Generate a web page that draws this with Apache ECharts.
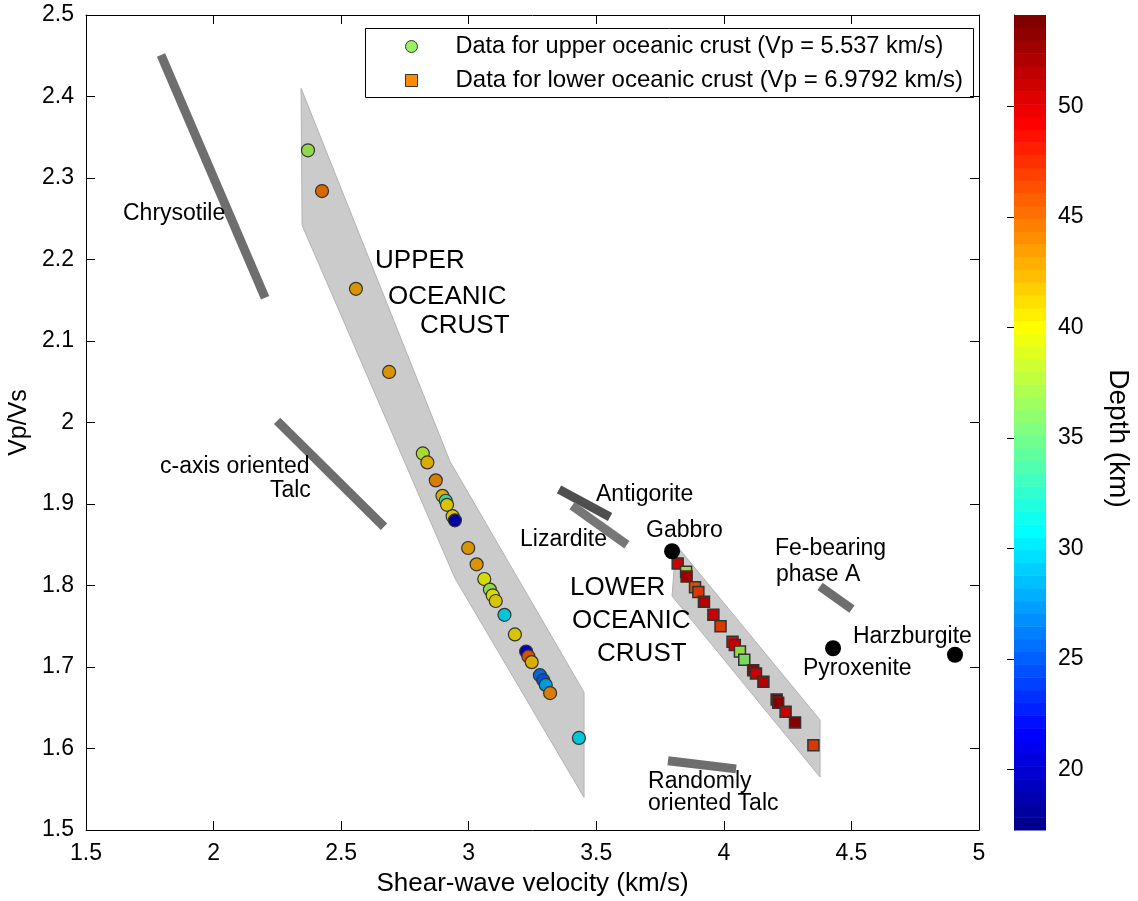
<!DOCTYPE html>
<html>
<head>
<meta charset="utf-8">
<script src="https://cdn.jsdelivr.net/npm/echarts@6/dist/echarts.min.js"></script>
<style>
  html, body { margin: 0; padding: 0; background: #fff; }
  #chart { width: 1138px; height: 901px; }
</style>
</head>
<body>
<div id="chart"></div>
<script>
// ---- Upper oceanic crust samples (Vp = 5.537 km/s) ----
const upperVs    = [2.370, 2.425, 2.558, 2.688, 2.820, 2.838, 2.871, 2.897, 2.910, 2.915, 2.937, 2.946, 2.998, 3.031,
                    3.061, 3.083, 3.094, 3.106, 3.140, 3.181, 3.225, 3.234, 3.247, 3.279, 3.292, 3.302, 3.319, 3.432];
const upperRatio = [2.334, 2.284, 2.164, 2.062, 1.962, 1.951, 1.929, 1.910, 1.904, 1.899, 1.885, 1.880, 1.846, 1.826,
                    1.808, 1.795, 1.788, 1.781, 1.764, 1.740, 1.719, 1.713, 1.706, 1.690, 1.684, 1.678, 1.668, 1.613];
const upperDepth = [37, 45, 43, 43, 38, 42, 44, 42, 33, 41, 41, 19, 43, 43,
                    40, 37, 40, 41, 30, 41, 20, 46, 42, 26, 25, 28, 44, 30];

// ---- Lower oceanic crust samples (Vp = 6.9792 km/s) ----
const lowerVs    = [3.819, 3.852, 3.854, 3.887, 3.900, 3.922, 3.959, 3.987, 4.034, 4.043, 4.063, 4.080,
                    4.115, 4.126, 4.155, 4.207, 4.213, 4.242, 4.279, 4.351];
const lowerRatio = [1.827, 1.817, 1.811, 1.798, 1.792, 1.780, 1.764, 1.750, 1.731, 1.727, 1.719, 1.709,
                    1.696, 1.692, 1.682, 1.660, 1.656, 1.645, 1.632, 1.604];
const lowerDepth = [50, 38, 52, 46, 47, 51, 50, 47, 49, 50, 37, 36,
                    52, 50, 51, 53, 53, 50, 53, 47];

// ---- Reference rocks ----
const rockNames = ['Gabbro', 'Pyroxenite', 'Harzburgite'];
const rockVs    = [3.797, 4.428, 4.906];
const rockRatio = [1.842, 1.723, 1.715];

// ---- Shaded crust fields (outline vertices) ----
const upperFieldVs    = [2.343, 2.347, 2.946, 3.452, 3.452, 2.927];
const upperFieldRatio = [2.410, 2.242, 1.809, 1.540, 1.669, 1.952];
const lowerFieldVs    = [3.812, 3.797, 4.377, 4.377];
const lowerFieldRatio = [1.850, 1.787, 1.565, 1.635];

// ---- Mineral trends (segment end points) ----
const mineralNames = ['Chrysotile', 'c-axis oriented Talc', 'Antigorite', 'Lizardite', 'Fe-bearing phase A', 'Randomly oriented Talc'];
const mineralVs    = [[1.794, 2.202], [2.249, 2.668], [3.354, 3.554], [3.405, 3.620], [4.377, 4.502], [3.781, 4.048]];
const mineralRatio = [[2.451, 2.153], [2.002, 1.872], [1.918, 1.884], [1.898, 1.850], [1.799, 1.771], [1.585, 1.575]];
const mineralShade = ['#6e6e6e', '#6e6e6e', '#4f4f4f', '#777777', '#6e6e6e', '#6e6e6e'];

// ---- Text annotations (left edge, vertical middle) ----
const noteText  = ['Chrysotile', 'UPPER', 'OCEANIC', 'CRUST', 'c-axis oriented', 'Talc', 'Antigorite', 'Lizardite',
                   'Gabbro', 'LOWER', 'OCEANIC', 'CRUST', 'Fe-bearing', 'phase A', 'Harzburgite', 'Pyroxenite',
                   'Randomly', 'oriented Talc'];
const noteVs    = [1.645, 2.633, 2.684, 2.809, 1.790, 2.221, 3.499, 3.201,
                   3.695, 3.397, 3.405, 3.503, 4.200, 4.204, 4.506, 4.310,
                   3.703, 3.703];
const noteRatio = [2.258, 2.199, 2.155, 2.120, 1.947, 1.917, 1.913, 1.858,
                   1.868, 1.798, 1.758, 1.718, 1.846, 1.814, 1.739, 1.699,
                   1.560, 1.533];
const noteBig   = [false, true, true, true, false, false, false, false,
                   false, true, true, true, false, false, false, false,
                   false, false];

// ---- Axes ----
const vsMin = 1.5, vsMax = 5, vsStep = 0.5;
const ratioMin = 1.5, ratioMax = 2.5, ratioStep = 0.1;
const depthMin = 17.27, depthMax = 54.14;
const depthTicks = [20, 25, 30, 35, 40, 45, 50];

// MATLAB-style jet colormap with 64 levels
function jetRGB(i, n) {
  const t = (i + 1) / n;
  const c = v => Math.max(0, Math.min(1, 1.5 - Math.abs(4 * t - v)));
  return [c(3), c(2), c(1)];
}
const toCss = (rgb, k) => 'rgb(' + rgb.map(v => Math.round(255 * v * k)).join(',') + ')';
const levels = 64;
const jetColors = [];     // colour bar
const markerColors = [];  // marker faces are rendered a little darker
for (let i = 0; i < levels; i++) {
  const rgb = jetRGB(i, levels);
  jetColors.push(toCss(rgb, 1));
  markerColors.push(toCss(rgb, 0.85));
}

const FONT = 'Liberation Sans, Arial, Helvetica, sans-serif';
const zip3 = (a, b, c) => a.map((v, i) => [v, b[i], c[i]]);
const zip2 = (a, b) => a.map((v, i) => [v, b[i]]);

function polygonSeries(xs, ys) {
  return {
    type: 'custom', xAxisIndex: 0, yAxisIndex: 0, z: 1, silent: true,
    data: zip2(xs, ys),
    renderItem: function (params, api) {
      if (params.dataIndex !== 0) return null;
      const pts = xs.map((x, i) => api.coord([x, ys[i]]));
      return {
        type: 'polygon',
        shape: { points: pts },
        style: { fill: '#cbcbcb', stroke: '#b3b3b3', lineWidth: 1 }
      };
    }
  };
}

const mineralSeries = mineralNames.map((nm, k) => ({
  type: 'line', name: nm, xAxisIndex: 0, yAxisIndex: 0, z: 2, silent: true,
  data: zip2(mineralVs[k], mineralRatio[k]),
  symbol: 'none',
  lineStyle: { color: mineralShade[k], width: 9, cap: 'butt' }
}));

// Colour bar bands
const bandIndex = [];
for (let i = 0; i < levels; i++) bandIndex.push(i);

const chart = echarts.init(document.getElementById('chart'), null, { renderer: 'canvas' });

const axisLineStyle = { lineStyle: { color: '#000', width: 1 } };
const tickStyle = { inside: true, length: 9, lineStyle: { color: '#000', width: 1 } };
const labelStyle = { color: '#000', fontFamily: FONT, fontSize: 23 };
const titleStyle = { color: '#000', fontFamily: FONT, fontSize: 25 };

chart.setOption({
  animation: false,
  backgroundColor: '#fff',
  grid: [
    { left: 86, top: 15, width: 893, height: 815, show: false, containLabel: false, outerBoundsMode: 'none' },
    { left: 1014, top: 15, width: 32, height: 815, show: false, containLabel: false, outerBoundsMode: 'none' }
  ],
  xAxis: [
    {
      gridIndex: 0, type: 'value', min: vsMin, max: vsMax, interval: vsStep, position: 'bottom',
      name: 'Shear-wave velocity (km/s)', nameLocation: 'middle', nameGap: 41, nameMoveOverlap: false,
      nameTextStyle: Object.assign({}, titleStyle, { fontSize: 26 }),
      axisLine: axisLineStyle, axisTick: tickStyle,
      axisLabel: Object.assign({ margin: 12 }, labelStyle),
      splitLine: { show: false }
    },
    {
      gridIndex: 0, type: 'value', min: vsMin, max: vsMax, interval: vsStep, position: 'top',
      axisLine: axisLineStyle, axisTick: tickStyle, axisLabel: { show: false }, splitLine: { show: false }
    },
    {
      gridIndex: 1, type: 'value', min: 0, max: 1, show: false
    }
  ],
  yAxis: [
    {
      gridIndex: 0, type: 'value', min: ratioMin, max: ratioMax, interval: ratioStep, position: 'left',
      name: 'Vp/Vs', nameLocation: 'middle', nameGap: 54, nameRotate: 90, nameMoveOverlap: false,
      nameTextStyle: titleStyle,
      axisLine: axisLineStyle, axisTick: tickStyle,
      axisLabel: Object.assign({ margin: 12 }, labelStyle),
      splitLine: { show: false }
    },
    {
      gridIndex: 0, type: 'value', min: ratioMin, max: ratioMax, interval: ratioStep, position: 'right',
      axisLine: axisLineStyle, axisTick: tickStyle, axisLabel: { show: false }, splitLine: { show: false }
    },
    {
      gridIndex: 1, type: 'value', min: depthMin, max: depthMax, position: 'right',
      name: 'Depth (km)', nameLocation: 'middle', nameGap: 58, nameRotate: -90, nameMoveOverlap: false,
      nameTextStyle: Object.assign({}, titleStyle, { fontSize: 28, padding: [0, 0, 0, 32] }),
      axisLine: { lineStyle: { color: '#555', width: 1 } },
      axisTick: { inside: true, length: 7, customValues: depthTicks, lineStyle: { color: '#000' } },
      axisLabel: Object.assign({ margin: 12, customValues: depthTicks }, labelStyle),
      splitLine: { show: false }
    },
    {
      gridIndex: 1, type: 'value', min: depthMin, max: depthMax, position: 'left',
      axisLine: { lineStyle: { color: '#555', width: 1 } },
      axisTick: { inside: true, length: 7, customValues: depthTicks, lineStyle: { color: '#000' } },
      axisLabel: { show: false }, splitLine: { show: false }
    }
  ],
  visualMap: {
    type: 'continuous', show: false, dimension: 2,
    min: depthMin, max: depthMax, seriesIndex: [2, 3],
    inRange: { color: markerColors }
  },
  graphic: [
    {
      type: 'group', left: 365, top: 28, z: 100,
      children: [
        { type: 'rect', shape: { x: 0, y: 0, width: 608, height: 69 }, style: { fill: '#fff', stroke: '#000', lineWidth: 1 } },
        { type: 'circle', shape: { cx: 46, cy: 18, r: 6 }, style: { fill: '#99f066', stroke: '#333', lineWidth: 1 } },
        { type: 'rect', shape: { x: 40, y: 46, width: 12, height: 12 }, style: { fill: '#ff8a00', stroke: '#333', lineWidth: 1 } },
        { type: 'text', x: 90, y: 18, style: { text: 'Data for upper oceanic crust (Vp = 5.537 km/s)', fill: '#000', font: '23.5px ' + FONT, verticalAlign: 'middle' } },
        { type: 'text', x: 90, y: 52, style: { text: 'Data for lower oceanic crust (Vp = 6.9792 km/s)', fill: '#000', font: '24px ' + FONT, verticalAlign: 'middle' } }
      ]
    }
  ],
  series: [
    polygonSeries(upperFieldVs, upperFieldRatio),
    polygonSeries(lowerFieldVs, lowerFieldRatio),
    {
      type: 'scatter', name: 'Data for upper oceanic crust (Vp = 5.537 km/s)',
      xAxisIndex: 0, yAxisIndex: 0, z: 4,
      data: zip3(upperVs, upperRatio, upperDepth),
      symbol: 'circle', symbolSize: 13,
      itemStyle: { borderColor: '#333', borderWidth: 1.2, opacity: 1 }
    },
    {
      type: 'scatter', name: 'Data for lower oceanic crust (Vp = 6.9792 km/s)',
      xAxisIndex: 0, yAxisIndex: 0, z: 4,
      data: zip3(lowerVs, lowerRatio, lowerDepth),
      symbol: 'rect', symbolSize: 11,
      itemStyle: { borderColor: '#333', borderWidth: 1.5, opacity: 1 }
    },
    {
      type: 'scatter', name: 'rocks', xAxisIndex: 0, yAxisIndex: 0, z: 5,
      data: zip2(rockVs, rockRatio),
      symbol: 'circle', symbolSize: 16,
      itemStyle: { color: '#000', opacity: 1 }
    },
    ...mineralSeries,
    {
      type: 'scatter', name: 'notes', xAxisIndex: 0, yAxisIndex: 0, z: 6, silent: true,
      data: noteText.map((t, i) => ({ value: [noteVs[i], noteRatio[i]], name: t })),
      symbolSize: 0,
      itemStyle: { opacity: 1 },
      label: {
        show: true, position: 'right', distance: 0, offset: [0, 1],
        color: '#000', fontFamily: FONT,
        formatter: p => '{' + (noteBig[p.dataIndex] ? 'b' : 's') + '|' + p.name + '}',
        rich: {
          s: { fontSize: 23, fontFamily: FONT, color: '#000' },
          b: { fontSize: 26, fontFamily: FONT, color: '#000' }
        }
      }
    },
    {
      type: 'custom', name: 'colorbar', xAxisIndex: 2, yAxisIndex: 2, z: 1, silent: true,
      data: bandIndex,
      renderItem: function (params, api) {
        const i = params.dataIndex;
        const step = (depthMax - depthMin) / levels;
        const p0 = api.coord([0, depthMin + i * step]);
        const p1 = api.coord([1, depthMin + (i + 1) * step]);
        return {
          type: 'rect',
          shape: { x: p0[0], y: p1[1], width: p1[0] - p0[0], height: p0[1] - p1[1] + 0.5 },
          style: { fill: jetColors[i] }
        };
      }
    }
  ]
});
</script>
</body>
</html>
